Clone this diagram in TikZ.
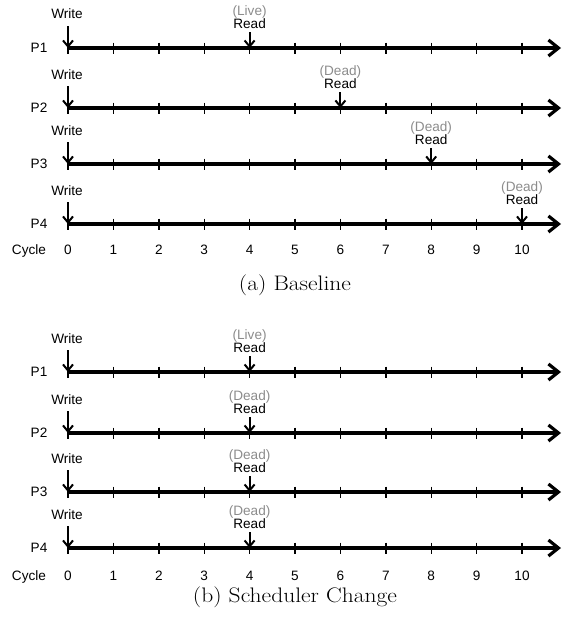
\documentclass[tikz,border=0pt]{standalone}
\usepackage{fontspec}
\setmainfont{Liberation Sans}
\newfontfamily\capfont{Latin Modern Roman}
\usetikzlibrary{arrows.meta}
\definecolor{statgray}{HTML}{8C8C8C}
\begin{document}
\begin{tikzpicture}[x=1pt,y=-1pt,
  lbl/.style={font=\fontsize{13.6}{13.6}\selectfont, inner sep=0pt, anchor=base},
  stat/.style={lbl, text=statgray},
  timeline/.style={line width=3.2pt, -{Straight Barb[length=10pt,width=16pt]}},
  tickmark/.style={line width=1.4pt},
  event/.style={line width=2pt, -{Straight Barb[length=6pt,width=10pt]}},
  captext/.style={font=\capfont\fontsize{21}{21}\selectfont, inner sep=0pt, anchor=base, xscale=1.12, transform shape}
]
\useasboundingbox (0,0) rectangle (562,621);
\foreach \r/\p/\yy/\rc/\st in {a/1/48/4/Live, a/2/108/6/Dead, a/3/164/8/Dead, a/4/224/10/Dead,
                               b/1/372/4/Live, b/2/433/4/Dead, b/3/492/4/Dead, b/4/548/4/Dead} {
  \coordinate (\r\p-s) at (68,\yy);
  \coordinate (\r\p-e) at (561,\yy);
  \draw[timeline] (\r\p-s) -- (\r\p-e);
  \foreach \k in {0,...,10} {
    \coordinate (\r\p-t\k-u) at (68+45.4*\k,\yy-5.5);
    \coordinate (\r\p-t\k-d) at (68+45.4*\k,\yy+5.5);
    \draw[tickmark] (\r\p-t\k-u) -- (\r\p-t\k-d);
  }
  \node[lbl] (\r\p-lab) at (39,\yy+4.8) {P\p};
  \node[lbl] (\r\p-wlab) at (67,\yy-29) {Write};
  \coordinate (\r\p-wtop) at (68,\yy-22);
  \draw[event] (\r\p-wtop) -- (\r\p-s);
  \coordinate (\r\p-rpt) at (68+45.4*\rc,\yy);
  \coordinate (\r\p-rtop) at (68+45.4*\rc,\yy-16);
  \draw[event] (\r\p-rtop) -- (\r\p-rpt);
  \node[lbl] (\r\p-rlab) at (68+45.4*\rc,\yy-19.5) {Read};
  \node[stat] (\r\p-slab) at (68+45.4*\rc,\yy-33) {(\st)};
}
\foreach \r/\yy in {a/254.7, b/580.7} {
  \node[lbl] (\r-cyc) at (29,\yy) {Cycle};
  \foreach \k in {0,...,10} {
    \node[lbl] (\r-c\k) at (68+45.4*\k,\yy) {\k};
  }
}
\node[captext] (capa) at (295,290) {(a) Baseline};
\node[captext] (capb) at (295,602) {(b) Scheduler Change};
\end{tikzpicture}
\end{document}
